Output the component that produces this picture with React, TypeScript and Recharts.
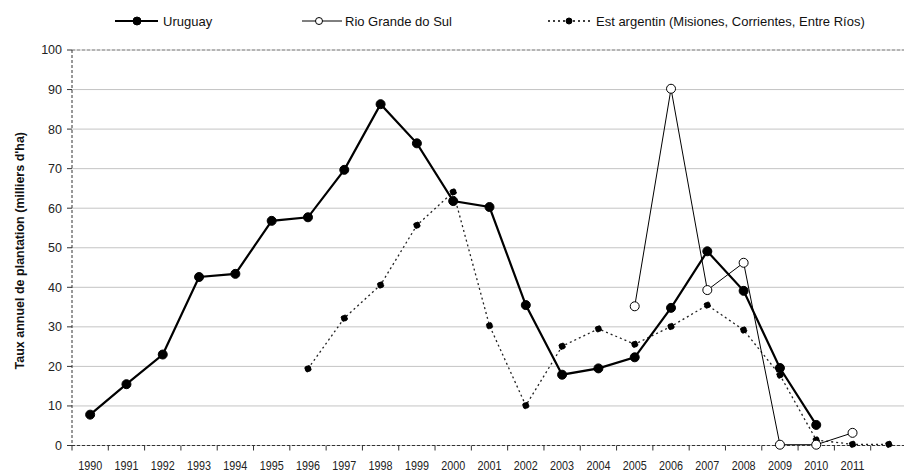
import React from "react"
import {
  CartesianGrid,
  Line,
  LineChart,
  ReferenceLine,
  XAxis,
  YAxis,
} from "recharts"

const YEARS = [
  1990, 1991, 1992, 1993, 1994, 1995, 1996, 1997, 1998, 1999, 2000, 2001,
  2002, 2003, 2004, 2005, 2006, 2007, 2008, 2009, 2010, 2011, 2012,
]

const URUGUAY = [
  7.8, 15.5, 23, 42.6, 43.4, 56.8, 57.7, 69.7, 86.3, 76.4, 61.8, 60.3,
  35.5, 17.9, 19.5, 22.3, 34.8, 49.1, 39.1, 19.6, 5.2, null, null,
]

const RIO_GRANDE = [
  null, null, null, null, null, null, null, null, null, null, null, null,
  null, null, null, 35.2, 90.2, 39.3, 46.2, 0.2, 0.2, 3.2, null,
]

const EST_ARGENTIN = [
  null, null, null, null, null, null, 19.4, 32.2, 40.6, 55.7, 64.1, 30.3,
  10.1, 25.1, 29.5, 25.6, 30.1, 35.5, 29.2, 17.8, 1.4, 0.3, 0.3,
]

const Y_TICKS = [0, 10, 20, 30, 40, 50, 60, 70, 80, 90, 100]
// tick marks sit between the years, like the old Excel chart
const X_BOUNDS = [
  1989.5, 1990.5, 1991.5, 1992.5, 1993.5, 1994.5, 1995.5, 1996.5, 1997.5,
  1998.5, 1999.5, 2000.5, 2001.5, 2002.5, 2003.5, 2004.5, 2005.5, 2006.5,
  2007.5, 2008.5, 2009.5, 2010.5, 2011.5, 2012.5,
]
const LAST_LABEL = 2011

const data = YEARS.map((year, i) => ({
  year,
  uruguay: URUGUAY[i],
  rio: RIO_GRANDE[i],
  est: EST_ARGENTIN[i],
}))

const FONT = '"Liberation Sans", Arial, sans-serif'
const CHART_W = 912
const CHART_H = 473
const PLOT_LEFT = 72
const PLOT_RIGHT = 5
const HALF_BAND = (CHART_W - PLOT_LEFT - PLOT_RIGHT) / (X_BOUNDS.length - 1) / 2

function YearTick(props: any) {
  const { x, y, payload } = props
  const year = payload.value + 0.5
  if (year > LAST_LABEL) return null
  // the source labels are a narrow face, squeeze a regular one
  return (
    <text
      x={x + HALF_BAND}
      y={y + 13}
      textAnchor="middle"
      dominantBaseline="central"
      fontSize={13}
      textLength={24}
      lengthAdjust="spacingAndGlyphs"
      fontFamily={FONT}
      fill="#222"
    >
      {year}
    </text>
  )
}

function YLabel(props: any) {
  const { viewBox } = props
  const cy = viewBox.y + viewBox.height / 2 + 3
  return (
    <text
      x={20}
      y={cy}
      transform={`rotate(-90, 20, ${cy})`}
      textAnchor="middle"
      dominantBaseline="central"
      fontSize={12.5}
      fontWeight="bold"
      fontFamily={FONT}
      fill="#111"
    >
      Taux annuel de plantation (milliers d'ha)
    </text>
  )
}

function LegendRow() {
  const items = [
    { name: "Uruguay", x1: 115, x2: 158, cx: 137, w: 2.2, dash: undefined, fill: "#000", r: 4, tx: 163 },
    { name: "Rio Grande do Sul", x1: 302, x2: 342, cx: 319, w: 1, dash: undefined, fill: "#fff", r: 3.5, tx: 345 },
    { name: "Est argentin (Misiones, Corrientes, Entre Ríos)", x1: 548, x2: 590, cx: 569, w: 1.4, dash: "2 3", fill: "#000", r: 3, tx: 596 },
  ]
  return (
    <svg width={904} height={32} style={{ position: "absolute", left: 0, top: 0 }}>
      {items.map((it) => (
        <g key={it.name}>
          <line x1={it.x1} x2={it.x2} y1={21} y2={21} stroke="#000" strokeWidth={it.w} strokeDasharray={it.dash} />
          <circle cx={it.cx} cy={21} r={it.r} fill={it.fill} stroke="#000" strokeWidth={1} />
          <text x={it.tx} y={21} dominantBaseline="central" fontSize={13} fontFamily={FONT} fill="#111">
            {it.name}
          </text>
        </g>
      ))}
    </svg>
  )
}

export default function App() {
  return (
    <div
      style={{
        position: "absolute",
        left: 0,
        top: 0,
        width: 904,
        height: CHART_H,
        overflow: "hidden",
        background: "#fff",
      }}
    >
      <LineChart
        width={CHART_W}
        height={CHART_H}
        data={data}
        margin={{ top: 50, right: PLOT_RIGHT, left: 0, bottom: 0 }}
      >
        <CartesianGrid vertical={false} stroke="#c4c4c4" />
        <ReferenceLine y={100} stroke="#888" strokeDasharray="3 2" />
        <XAxis
          dataKey="year"
          type="number"
          domain={[1989.5, 2012.5]}
          ticks={X_BOUNDS}
          interval={0}
          height={27.5}
          tickSize={5}
          tick={<YearTick />}
          tickLine={{ stroke: "#333" }}
          axisLine={{ stroke: "#333", strokeDasharray: "3 2" }}
        />
        <YAxis
          width={PLOT_LEFT}
          domain={[0, 100]}
          ticks={Y_TICKS}
          interval={0}
          tickSize={5}
          tickMargin={5}
          tick={{ fontSize: 12.5, fontFamily: FONT, fill: "#222" }}
          tickLine={{ stroke: "#333" }}
          axisLine={{ stroke: "#333", strokeDasharray: "3 2" }}
          label={{ content: <YLabel /> }}
        />
        <Line
          dataKey="est"
          stroke="#222"
          strokeWidth={1.3}
          strokeDasharray="2 3"
          dot={{ r: 3.2, fill: "#000", stroke: "#000", strokeWidth: 1 }}
          isAnimationActive={false}
        />
        <Line
          dataKey="rio"
          stroke="#000"
          strokeWidth={1}
          dot={{ r: 4.5, fill: "#fff", stroke: "#000", strokeWidth: 1 }}
          isAnimationActive={false}
        />
        <Line
          dataKey="uruguay"
          stroke="#000"
          strokeWidth={2.2}
          dot={{ r: 4.5, fill: "#000", stroke: "#000", strokeWidth: 1 }}
          isAnimationActive={false}
        />
      </LineChart>
      <LegendRow />
    </div>
  )
}
